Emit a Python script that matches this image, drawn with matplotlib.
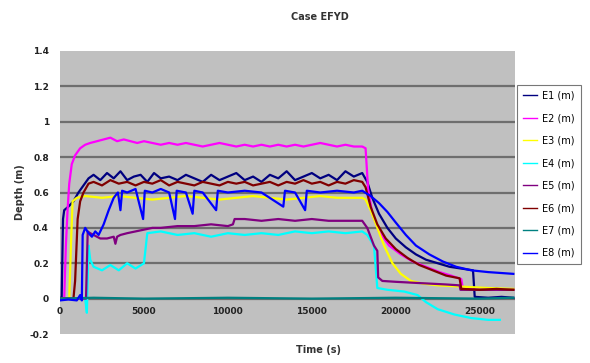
import matplotlib
matplotlib.use("Agg")
import matplotlib.pyplot as plt

# gauge readings: (time s, depth m)
e1 = [(0, 0.0), (100, 0.01), (180, 0.45), (250, 0.5), (500, 0.52), (800, 0.55), (1100, 0.6),
      (1400, 0.64), (1700, 0.68), (2000, 0.7), (2400, 0.67), (2800, 0.71), (3200, 0.68),
      (3600, 0.72), (4000, 0.67), (4400, 0.69), (4800, 0.70), (5200, 0.66), (5600, 0.71),
      (6000, 0.68), (6500, 0.69), (7000, 0.67), (7500, 0.70), (8000, 0.68), (8500, 0.66),
      (9000, 0.70), (9500, 0.67), (10000, 0.69), (10500, 0.71), (11000, 0.67), (11500, 0.69),
      (12000, 0.66), (12500, 0.70), (13000, 0.68), (13500, 0.72), (14000, 0.67), (14500, 0.69),
      (15000, 0.71), (15500, 0.68), (16000, 0.70), (16500, 0.67), (17000, 0.72), (17500, 0.69),
      (18000, 0.71), (18300, 0.66), (18600, 0.57), (19000, 0.48), (19500, 0.40), (20000, 0.34),
      (20600, 0.29), (21200, 0.25), (21800, 0.22), (22500, 0.20), (23200, 0.18), (23900, 0.17),
      (24600, 0.16), (24700, 0.01), (25500, 0.005), (26300, 0.01), (27000, 0.005)]

e2 = [(0, 0.0), (250, 0.0), (350, 0.3), (450, 0.5), (550, 0.65), (700, 0.76), (900, 0.81),
      (1200, 0.85), (1500, 0.87), (1800, 0.88), (2200, 0.89), (2600, 0.9), (3000, 0.91),
      (3400, 0.89), (3800, 0.9), (4200, 0.89), (4600, 0.88), (5000, 0.89), (5500, 0.88),
      (6000, 0.87), (6500, 0.88), (7000, 0.87), (7500, 0.88), (8000, 0.87), (8500, 0.86),
      (9000, 0.87), (9500, 0.88), (10000, 0.87), (10500, 0.86), (11000, 0.87), (11500, 0.86),
      (12000, 0.87), (12500, 0.86), (13000, 0.87), (13500, 0.86), (14000, 0.87), (14500, 0.86),
      (15000, 0.87), (15500, 0.88), (16000, 0.87), (16500, 0.86), (17000, 0.87), (17500, 0.86),
      (18000, 0.86), (18200, 0.85), (18350, 0.62), (18600, 0.48), (19000, 0.38), (19600, 0.30),
      (20300, 0.25), (21000, 0.21), (21800, 0.18), (22600, 0.15), (23300, 0.13), (23900, 0.11),
      (24000, 0.055), (25000, 0.05), (27000, 0.05)]

e3 = [(0, 0.0), (550, 0.0), (650, 0.3), (750, 0.55), (1000, 0.57), (1500, 0.58), (2500, 0.57),
      (3500, 0.58), (4500, 0.57), (5500, 0.56), (6500, 0.57), (7500, 0.58), (8500, 0.57),
      (9500, 0.56), (10500, 0.57), (11500, 0.58), (12500, 0.57), (13500, 0.56), (14500, 0.57),
      (15500, 0.58), (16500, 0.57), (17500, 0.57), (18000, 0.57), (18200, 0.56), (18500, 0.50),
      (18900, 0.40), (19300, 0.30), (19800, 0.20), (20300, 0.14), (20900, 0.10), (21600, 0.085),
      (22500, 0.075), (23500, 0.07), (24500, 0.065), (25500, 0.06), (27000, 0.055)]

e4 = [(0, 0.0), (1500, 0.0), (1600, -0.08), (1700, 0.3), (1800, 0.22), (2000, 0.18), (2500, 0.16),
      (3000, 0.19), (3500, 0.16), (4000, 0.2), (4500, 0.17), (5000, 0.2), (5200, 0.37),
      (6000, 0.38), (7000, 0.36), (8000, 0.37), (9000, 0.35), (10000, 0.37), (11000, 0.36),
      (12000, 0.37), (13000, 0.36), (14000, 0.38), (15000, 0.37), (16000, 0.38), (17000, 0.37),
      (18000, 0.38), (18300, 0.36), (18700, 0.30), (18900, 0.06), (19500, 0.05), (20500, 0.04),
      (21300, 0.02), (21800, -0.02), (22500, -0.06), (23500, -0.09), (24500, -0.11),
      (25500, -0.12), (26200, -0.12)]

e5 = [(0, 0.0), (1550, 0.0), (1650, 0.38), (1800, 0.37), (2000, 0.36), (2400, 0.34), (2800, 0.34),
      (3200, 0.35), (3300, 0.31), (3400, 0.35), (3600, 0.36), (4000, 0.37), (4500, 0.38),
      (5000, 0.39), (5500, 0.40), (6000, 0.40), (7000, 0.41), (8000, 0.41), (9000, 0.42),
      (10000, 0.41), (10300, 0.42), (10400, 0.45), (11000, 0.45), (12000, 0.44), (13000, 0.45),
      (14000, 0.44), (15000, 0.45), (16000, 0.44), (17000, 0.44), (18000, 0.44), (18300, 0.40),
      (18700, 0.30), (18900, 0.27), (18950, 0.12), (19200, 0.10), (20000, 0.095), (21000, 0.09),
      (22000, 0.085), (23000, 0.08), (23800, 0.075), (23850, 0.05), (25000, 0.05), (27000, 0.05)]

e6 = [(0, 0.0), (800, 0.0), (900, 0.1), (1050, 0.45), (1200, 0.55), (1400, 0.6), (1700, 0.65),
      (2000, 0.66), (2500, 0.64), (3000, 0.67), (3500, 0.65), (4000, 0.66), (4500, 0.64),
      (5000, 0.66), (5500, 0.65), (6000, 0.67), (6500, 0.64), (7000, 0.66), (7500, 0.65),
      (8000, 0.64), (8500, 0.66), (9000, 0.65), (9500, 0.64), (10000, 0.66), (10500, 0.65),
      (11000, 0.66), (11500, 0.64), (12000, 0.65), (12500, 0.66), (13000, 0.64), (13500, 0.66),
      (14000, 0.65), (14500, 0.67), (15000, 0.65), (15500, 0.66), (16000, 0.64), (16500, 0.66),
      (17000, 0.65), (17500, 0.67), (18000, 0.66), (18200, 0.63), (18500, 0.52), (18900, 0.42),
      (19400, 0.34), (20000, 0.28), (20700, 0.23), (21400, 0.19), (22200, 0.16), (23000, 0.13),
      (23800, 0.115), (23900, 0.055), (25000, 0.05), (26000, 0.055), (27000, 0.05)]

e7 = [(0, 0.0), (2000, 0.005), (5000, 0.0), (10000, 0.005), (15000, 0.0), (20000, 0.005),
      (25000, 0.0), (27000, 0.005)]

e8 = [(0, -0.01), (500, -0.005), (1000, -0.01), (1200, 0.02), (1300, -0.01), (1350, 0.36),
      (1500, 0.4), (1700, 0.37), (1900, 0.35), (2100, 0.38), (2300, 0.36), (2600, 0.42),
      (2900, 0.5), (3200, 0.57), (3450, 0.6), (3600, 0.5), (3700, 0.61), (4000, 0.6),
      (4500, 0.62), (4950, 0.45), (5050, 0.61), (5500, 0.6), (6000, 0.62), (6500, 0.6),
      (6850, 0.45), (6950, 0.61), (7500, 0.6), (7900, 0.48), (8000, 0.61), (8500, 0.6),
      (9300, 0.5), (9400, 0.61), (10000, 0.6), (11000, 0.61), (12000, 0.6), (13300, 0.52),
      (13400, 0.61), (14000, 0.6), (14600, 0.5), (14700, 0.61), (15500, 0.6), (16500, 0.61),
      (17500, 0.6), (18000, 0.61), (18500, 0.58), (19000, 0.54), (19500, 0.49), (20000, 0.43),
      (20600, 0.36), (21200, 0.30), (22000, 0.25), (22800, 0.21), (23600, 0.18), (24500, 0.16),
      (25500, 0.15), (27000, 0.14)]

series = [e1, e2, e3, e4, e5, e6, e7, e8]
labels = ["E1 (m)", "E2 (m)", "E3 (m)", "E4 (m)", "E5 (m)", "E6 (m)", "E7 (m)", "E8 (m)"]
colors = ["#000080", "#FF00FF", "#FFFF00", "#00FFFF", "#800080", "#800000", "#008080", "#0000FF"]
x_ticks = [0, 5000, 10000, 15000, 20000, 25000]
y_ticks = [-0.2, 0, 0.2, 0.4, 0.6, 0.8, 1, 1.2, 1.4]

fig = plt.figure(figsize=(5.9, 3.63), dpi=100)
ax = fig.add_axes([60 / 590, 1 - 334 / 363, 455 / 590, 283 / 363])
ax.set_facecolor("#C0C0C0")

for data, lab, col in zip(series, labels, colors):
    t = [p[0] for p in data]
    d = [p[1] for p in data]
    ax.plot(t, d, color=col, lw=1.6, label=lab)

ax.set_xlim(0, 27100)
ax.set_ylim(-0.2, 1.4)
ax.set_yticks(y_ticks)
ax.set_yticklabels(["-0.2", "0", "0.2", "0.4", "0.6", "0.8", "1", "1.2", "1.4"])
ax.set_xticks(x_ticks)
ax.set_xticklabels([str(v) for v in x_ticks])
for y in y_ticks[1:-1]:
    ax.axhline(y, color="#6E6E6E", lw=1.6, zorder=0.5)

for s in ax.spines.values():
    s.set_visible(False)
ax.spines["bottom"].set_position(("data", 0))
ax.tick_params(axis="both", length=0, labelsize=6.5, colors="#222222")
ax.tick_params(axis="x", pad=6)
ax.tick_params(axis="y", pad=8)
for lbl in ax.get_xticklabels() + ax.get_yticklabels():
    lbl.set_fontweight("bold")

fig.text(320 / 590, 1 - 17 / 363, "Case EFYD", ha="center", va="center",
         fontsize=7, fontweight="bold", color="#333333")
fig.text(318 / 590, 1 - 350 / 363, "Time (s)", ha="center", va="center",
         fontsize=7, fontweight="bold", color="#333333")
fig.text(20 / 590, 1 - 192 / 363, "Depth (m)", ha="center", va="center", rotation=90,
         fontsize=7, fontweight="bold", color="#333333")

leg = fig.legend(loc="upper left", bbox_to_anchor=(517 / 590, 1 - 85 / 363),
                 fontsize=7, frameon=True, fancybox=False, edgecolor="#555555",
                 handlelength=1.5, handletextpad=0.5, labelspacing=1.28,
                 borderpad=0.6, borderaxespad=0)
leg.get_frame().set_linewidth(0.8)
for line in leg.get_lines():
    line.set_linewidth(1.0)

fig.savefig("out.png", dpi=100)
